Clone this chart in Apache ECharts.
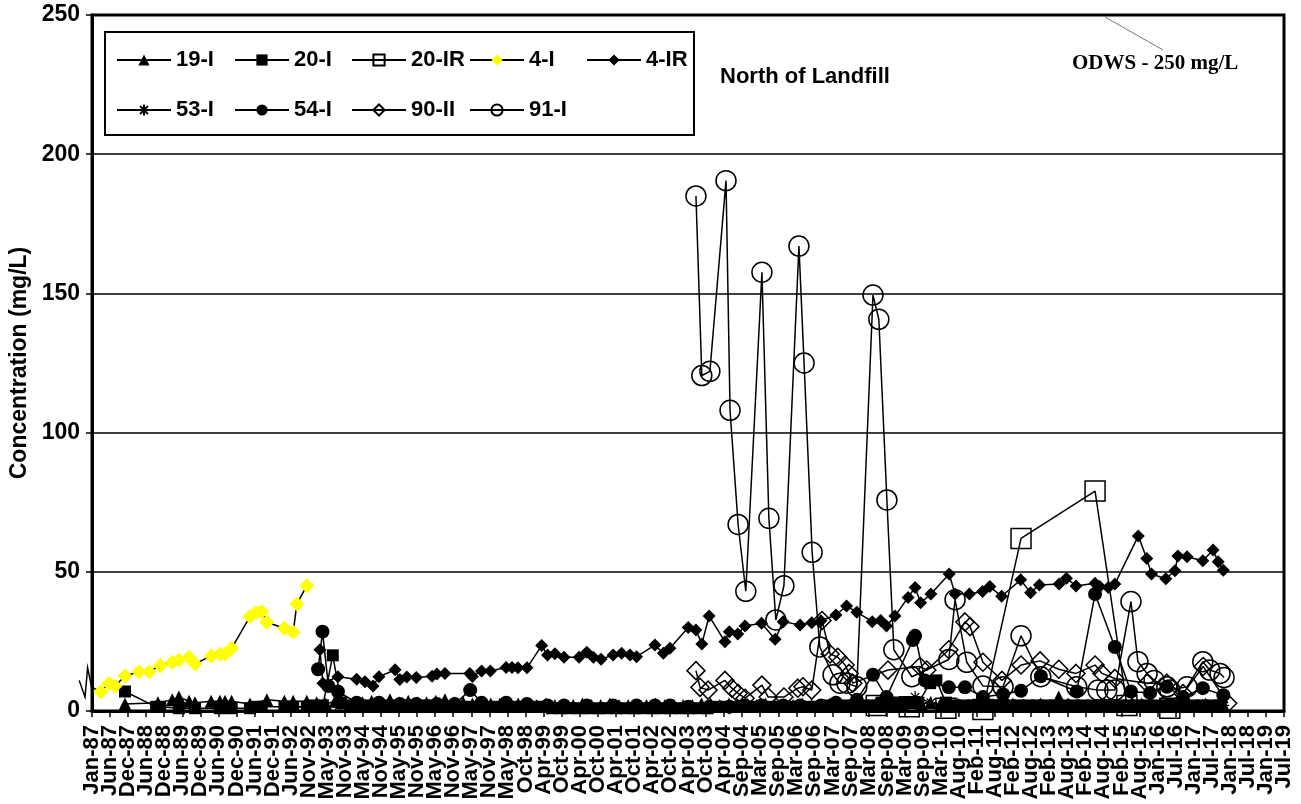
<!DOCTYPE html>
<html>
<head>
<meta charset="utf-8">
<title>North of Landfill</title>
<script src="https://cdn.jsdelivr.net/npm/echarts@6/dist/echarts.min.js"></script>
<style>
  html, body { margin: 0; padding: 0; background: #fff; }
  #chart { width: 1301px; height: 804px; }
</style>
</head>
<body>
<div id="chart"></div>
<script>
// sample dates are decimal years, values in mg/L

const tickLabels = [
  "Jan-87", "Jun-87", "Dec-87", "Jun-88", "Dec-88", "Jun-89", "Dec-89", "Jun-90", "Dec-90",
  "Jun-91", "Dec-91", "Jun-92", "Nov-92", "May-93", "Nov-93", "May-94", "Nov-94", "May-95",
  "Nov-95", "May-96", "Nov-96", "May-97", "Nov-97", "May-98", "Oct-98", "Apr-99", "Oct-99",
  "Apr-00", "Oct-00", "Apr-01", "Oct-01", "Apr-02", "Oct-02", "Apr-03", "Oct-03", "Apr-04",
  "Sep-04", "Mar-05", "Sep-05", "Mar-06", "Sep-06", "Mar-07", "Sep-07", "Mar-08", "Sep-08",
  "Mar-09", "Sep-09", "Mar-10", "Aug-10", "Feb-11", "Aug-11", "Feb-12", "Aug-12", "Feb-13",
  "Aug-13", "Feb-14", "Aug-14", "Feb-15", "Aug-15", "Jan-16", "Jul-16", "Jan-17", "Jul-17",
  "Jan-18", "Jul-18", "Jan-19", "Jul-19",
];
const yTicks = [0, 50, 100, 150, 200, 250];

const t19I = [1987.90, 1988.80, 1989.19, 1989.37, 1989.65, 1989.81, 1990.25, 1990.49, 1990.63, 1990.81,
  1991.31, 1991.77, 1992.25, 1992.49, 1992.86,
  1993.13, 1993.38, 1993.63, 1993.88, 1994.13, 1994.38, 1994.63, 1994.88, 1995.13, 1995.38, 1995.63, 1995.88,
  1996.13, 1996.38, 1996.63, 1996.88, 1997.13, 1997.38, 1997.63, 1997.88, 1998.13, 1998.38, 1998.63, 1998.88,
  1999.13, 1999.38, 1999.63, 1999.88, 2000.13, 2000.38, 2000.63, 2000.88, 2001.13, 2001.38, 2001.63, 2001.88,
  2002.13, 2002.38, 2002.63, 2002.88, 2003.13, 2003.38, 2003.63, 2003.88, 2004.13, 2004.38, 2004.63, 2004.88,
  2005.13, 2005.38, 2005.63, 2005.88, 2006.13, 2006.38, 2006.63, 2006.88, 2007.13, 2007.38, 2007.63, 2007.88,
  2008.13, 2008.38, 2008.63, 2008.88, 2009.13, 2009.38, 2009.63, 2009.88, 2010.13, 2010.38, 2010.63, 2010.88,
  2011.13, 2011.38, 2011.63, 2011.88, 2012.13, 2012.38, 2012.63, 2012.88, 2013.13, 2013.38, 2013.63, 2013.88,
  2014.13, 2014.38, 2014.63, 2014.88, 2015.13, 2015.38, 2015.63, 2015.88, 2016.13, 2016.38, 2016.63, 2016.88,
  2017.13, 2017.38, 2017.63, 2017.88];
const v19I = [2.5, 3, 4, 5, 3.5, 3, 3.5, 3.5, 3.5, 3.5,
  2.5, 4, 3.5, 3.5, 3.5,
  3, 2.5, 3.5, 3, 2.5, 3, 3.5, 3, 4, 3, 3.5, 3,
  3, 3.5, 4, 3, 3, 2.5, 3, 2.5, 2.5, 3, 2.5, 2,
  2, 2.5, 2, 2, 2, 2.5, 2, 2, 2.5, 2, 2, 2,
  2, 2.5, 2, 2, 2, 2, 2.5, 2.5, 2, 2.5, 2, 2.5,
  2, 2.5, 2, 2, 2, 2.5, 2, 2, 2.5, 2, 2, 2.5,
  2, 2.5, 2, 2, 2.5, 3, 2.5, 3, 2, 2.5, 2.5, 2,
  2, 2.5, 2, 2, 2.5, 2, 2, 2.5, 2, 5, 2.5, 2,
  2, 2, 2.5, 2, 2, 3, 2.5, 2, 2, 2.5, 2, 2,
  2, 2.5, 2, 2];

const t20I = [1987.90, 1988.75, 1988.86, 1989.37, 1989.81, 1990.49, 1990.81, 1991.31, 1991.47, 1991.63,
  1992.25, 1992.49, 1992.86,
  1993.05, 1993.30, 1993.57, 1993.80, 1994.05, 1994.30, 1994.55, 1994.80, 1995.05, 1995.30, 1995.55, 1995.80,
  1996.05, 1996.30, 1996.55, 1996.80, 1997.05, 1997.30, 1997.55, 1997.80, 1998.05, 1998.30, 1998.55, 1998.80,
  1999.05, 1999.30, 1999.55, 1999.80, 2000.05, 2000.30, 2000.55, 2000.80, 2001.05, 2001.30, 2001.55, 2001.80,
  2002.05, 2002.30, 2002.55, 2002.80, 2003.05, 2003.30, 2003.55, 2003.80, 2004.05, 2004.30, 2004.55, 2004.80,
  2005.05, 2005.30, 2005.55, 2005.80, 2006.05, 2006.30, 2006.55, 2006.80, 2007.05, 2007.30, 2007.55, 2007.80,
  2008.05, 2008.30, 2008.55, 2008.80, 2009.05, 2009.30, 2009.55, 2009.87, 2010.04, 2010.30, 2010.55, 2010.80,
  2011.05, 2011.30, 2011.55, 2011.80, 2012.05, 2012.30, 2012.55, 2012.80, 2013.05, 2013.30, 2013.55, 2013.80,
  2014.05, 2014.30, 2014.55, 2014.80, 2015.05, 2015.30, 2015.55, 2015.80, 2016.05, 2016.30, 2016.55, 2016.80,
  2017.05, 2017.30, 2017.55, 2017.80];
const v20I = [7, 1.5, 1.5, 1, 1, 1, 1, 1, 1.5, 1.5,
  1.5, 1.5, 1.5,
  2, 2, 20, 3, 2, 2, 2, 2, 2, 2, 2, 2,
  2, 2, 2, 1.5, 1.5, 1.5, 1.5, 1.5, 1.5, 1.5, 1.5, 1.5,
  1.5, 1.5, 1, 1, 1, 1, 1, 1, 1, 1, 1, 1,
  1, 1, 1, 1, 1, 1, 1, 1, 1.5, 1.5, 1.5, 1.5,
  1.5, 1.5, 1.5, 1.5, 1.5, 1.5, 1.5, 1.5, 2, 2, 2, 2,
  2, 2, 3, 3, 3, 3, 3, 10, 11, 3, 2, 2,
  2, 2, 2, 2, 2, 2, 2, 2, 2, 2, 2, 2,
  2, 2, 2, 2, 2, 2, 2, 2, 2, 2, 2, 2,
  2, 2, 2, 2];

const t20IR = [2008.40, 2009.30, 2010.30, 2011.31, 2012.35, 2014.37, 2015.24, 2016.41];
const v20IR = [2, 1.5, 1, 0.5, 62, 79, 2, 1];

const t4I = [1987.24, 1987.46, 1987.63, 1987.90, 1988.28, 1988.56,
  1988.86, 1989.19, 1989.37, 1989.65, 1989.81, 1990.25, 1990.49, 1990.63, 1990.81, 1991.31, 1991.47,
  1991.63, 1991.77, 1992.25, 1992.49, 1992.59, 1992.86];
const v4I = [6.9, 9.9, 9.0, 12.6, 14.1, 14.1,
  16.3, 17.5, 18.3, 19.3, 16.9, 19.8, 20.5, 20.5, 22.5, 33.9, 35.3,
  35.7, 31.9, 29.7, 28.3, 38.4, 45.0];
// 4-I readings dated before Jan-87: only their connecting line shows, at the axis
const t4IEarly = [1986.65, 1986.81, 1986.88, 1986.99];
const v4IEarly = [11, 5, 15.5, 8.6];

const t4IR = [1993.22, 1993.30, 1993.71, 1994.22, 1994.45, 1994.67, 1994.83, 1995.27, 1995.40, 1995.59,
  1995.85, 1996.28, 1996.41, 1996.63, 1997.31, 1997.38, 1997.63, 1997.87, 1998.30, 1998.46, 1998.62,
  1998.87, 1999.27, 1999.43, 1999.63, 1999.88, 2000.29, 2000.50, 2000.68, 2000.89, 2001.22, 2001.45,
  2001.68, 2001.86, 2002.36, 2002.59, 2002.77, 2003.27, 2003.48, 2003.64, 2003.84, 2004.27, 2004.39,
  2004.62, 2004.82, 2005.27, 2005.64, 2005.86, 2006.32, 2006.64, 2006.89, 2007.30, 2007.59, 2007.87,
  2008.29, 2008.52, 2008.68, 2008.91, 2009.27, 2009.46, 2009.61, 2009.89, 2010.39, 2010.55, 2010.94,
  2011.30, 2011.50, 2011.82, 2012.34, 2012.61, 2012.85, 2013.39, 2013.59, 2013.85, 2014.37, 2014.50,
  2014.73, 2014.91, 2015.55, 2015.78, 2015.91, 2016.30, 2016.55, 2016.63, 2016.88, 2017.31, 2017.59,
  2017.73, 2017.87];
const v4IR = [22, 10, 12.3, 11.4, 10.5, 9, 12.3, 14.8, 11.3, 12.2,
  12, 12.5, 13.3, 13.5, 13.5, 12.4, 14.4, 14.4, 15.6, 15.6, 15.5,
  15.5, 23.5, 20.1, 20.6, 19.3, 19.3, 21.1, 19.3, 18.6, 20.1, 20.7,
  20.1, 19.5, 23.7, 20.7, 22.5, 30, 29.1, 24.1, 34.1, 24.9, 28.5,
  27.7, 30.5, 31.5, 25.8, 32.1, 30.9, 31.7, 32.4, 34.5, 37.7, 35.5,
  32.1, 32.5, 30.5, 34.1, 40.8, 44.4, 38.9, 42, 49.2, 42, 42,
  42.9, 44.7, 41.2, 47.1, 42.5, 45.3, 45.6, 47.7, 44.9, 45.9, 44.7,
  44.4, 45.6, 62.9, 54.8, 49.2, 47.5, 50.4, 55.7, 55.4, 54, 57.8,
  53.6, 50.6];

const t53I = [1993.30, 1993.71, 1994.22, 1994.83, 1995.40, 1995.85, 1996.41, 1996.90, 1997.40, 1997.87,
  1998.46, 1998.87, 1999.43, 1999.88, 2000.50, 2000.89, 2001.45, 2001.86, 2002.36, 2002.77, 2003.27,
  2003.84, 2004.39, 2004.82, 2005.27, 2005.86, 2006.32, 2006.89, 2007.30, 2007.87, 2008.29, 2008.91,
  2009.46, 2009.89, 2010.39, 2010.94, 2011.50, 2011.86, 2012.34, 2012.85, 2013.39, 2013.85, 2014.37,
  2014.91, 2015.55, 2015.91, 2016.55, 2017.31, 2017.87];
const v53I = [2, 1.5, 1.5, 1.5, 1.5, 1.5, 1.5, 1.5, 1.5, 1.5,
  1.5, 1.5, 1, 1, 1, 1, 1, 1, 1, 1, 1,
  1, 1, 1.5, 1.5, 1.5, 1.5, 1.5, 2, 2, 2, 2,
  5, 3, 2, 2, 2, 4, 2, 2, 2, 2, 2,
  2, 2, 2, 2, 2, 2];

const t54I = [1993.17, 1993.29, 1993.45, 1993.71, 1994.22, 1994.83, 1995.40, 1995.85, 1996.41, 1996.90,
  1997.32, 1997.63, 1998.30, 1998.87, 1999.43, 1999.88, 2000.50, 2001.22, 2001.86, 2002.36, 2002.77,
  2003.27, 2003.84, 2004.39, 2004.82, 2005.27, 2005.86, 2006.32, 2006.89, 2007.30, 2007.87, 2008.31,
  2008.68, 2009.40, 2009.46, 2009.73, 2010.38, 2010.82, 2011.31, 2011.86, 2012.35, 2012.89, 2013.87,
  2014.37, 2014.91, 2015.35, 2015.87, 2016.33, 2016.77, 2017.31, 2017.87];
const v54I = [15, 28.5, 9, 7, 3, 3, 2.5, 2.5, 2.5, 2.5,
  7.5, 3, 3, 2.5, 2, 2, 2, 2, 2, 2, 2,
  1.5, 1.5, 1.5, 2, 2, 2, 2, 2, 3, 4, 13,
  5, 25.5, 27, 11, 8.5, 8.5, 5, 6, 7.3, 12.5, 7,
  42, 23, 7, 6.5, 8.7, 5, 8.2, 5.7];

const t90II = [2003.48, 2003.59, 2003.81, 2004.27, 2004.46, 2004.63, 2004.82, 2005.28, 2005.45, 2005.88,
  2006.26, 2006.40, 2006.64, 2006.92, 2007.14, 2007.35, 2007.55, 2007.66, 2007.76, 2008.72, 2009.59,
  2009.78, 2010.38, 2010.82, 2010.96, 2011.31, 2011.83, 2012.35, 2012.87, 2013.38, 2013.85, 2014.37,
  2014.56, 2014.91, 2015.79, 2016.33, 2016.77, 2017.32, 2017.99];
const v90II = [14.5, 8.5, 7.5, 11, 8.2, 6.3, 4.6, 9.3, 5, 5,
  8.2, 8.7, 7.5, 32.5, 20.5, 19.3, 16.5, 13.5, 10, 14.7, 16,
  14.7, 22, 32, 30.3, 17.5, 11, 16.5, 18, 15, 13.5, 16.5,
  13.5, 11.7, 10, 10, 6.3, 16, 2.8];

const t91I = [2003.48, 2003.64, 2003.86, 2004.30, 2004.41, 2004.63, 2004.84, 2005.28, 2005.47, 2005.66,
  2005.88, 2006.29, 2006.43, 2006.65, 2006.86, 2007.22, 2007.41, 2007.60, 2007.87, 2008.31, 2008.47,
  2008.69, 2008.88, 2009.37, 2010.38, 2010.55, 2010.87, 2011.31, 2011.86, 2012.35, 2012.89, 2013.87,
  2014.45, 2014.69, 2014.91, 2015.35, 2015.54, 2015.79, 2015.98, 2016.33, 2016.41, 2016.88, 2017.31,
  2017.50, 2017.78, 2017.89];
const v91I = [185, 120.5, 122, 190.5, 108, 67, 43, 157.6, 69.2, 32.7,
  45, 167, 125, 57, 23, 13, 10, 10, 8.7, 149.4, 140.7,
  75.8, 22, 12.3, 18.5, 40, 17.5, 9, 8.7, 27, 12.3, 8.7,
  7.5, 7.5, 7.5, 39.3, 17.7, 13.5, 11, 8.7, 7.5, 8.7, 17.7,
  14.7, 13.5, 12];

const FONT = "'Liberation Sans', Arial, sans-serif";
const DAYS_PER_TICK = 180;
const START_YEAR = 1987;
const LEGEND_COLS = [111, 229, 346, 464, 581];
const LEGEND_ROWS = [44, 94];

function toDays(year) {
  return (year - START_YEAR) * 365.25;
}

function toPoints(years, values) {
  return years.map((year, i) => [toDays(year), values[i]]);
}

function lineSeries(name, years, values, marker) {
  return {
    name,
    type: "line",
    xAxisIndex: 1,
    data: toPoints(years, values),
    symbol: marker.symbol,
    symbolSize: marker.size,
    showAllSymbol: true,
    lineStyle: { color: "#000", width: 1.5 },
    itemStyle: marker.style,
    emphasis: { disabled: true },
  };
}

const open = { color: "rgba(0,0,0,0)", borderColor: "#000", borderWidth: 1.5 };
const solid = { color: "#000", borderWidth: 0 };
const asterisk = "path://M5,0L5,10M0,5L10,5M1.5,1.5L8.5,8.5M8.5,1.5L1.5,8.5";

const legendNames = [
  ["19-I", "20-I", "20-IR", "4-I", "4-IR"],
  ["53-I", "54-I", "90-II", "91-I"],
];

const legends = [];
legendNames.forEach((row, r) => {
  row.forEach((name, c) => {
    legends.push({
      data: [name],
      left: LEGEND_COLS[c],
      top: LEGEND_ROWS[r],
      itemWidth: 54,
      itemHeight: 14,
      selectedMode: false,
      textStyle: { fontFamily: FONT, fontWeight: "bold", fontSize: 22, color: "#000" },
    });
  });
});

const chart = echarts.init(document.getElementById("chart"));

chart.setOption({
  animation: false,
  backgroundColor: "#fff",
  grid: {
    left: 92,
    right: 17,
    top: 15,
    bottom: 93,
    show: true,
    borderColor: "#000",
    borderWidth: 3,
    outerBoundsMode: "none",
  },
  legend: legends,
  xAxis: [
    {
      // tick labels every 180 days, one per category, lined up with the day axis below
      type: "category",
      data: tickLabels,
      boundaryGap: false,
      axisLine: { onZero: false, lineStyle: { color: "#000", width: 3 } },
      axisTick: { show: true, inside: false, length: 6, interval: 0, lineStyle: { color: "#000", width: 1.5 } },
      splitLine: { show: false },
      axisLabel: {
        interval: 0,
        rotate: 90,
        margin: 14,
        fontFamily: FONT,
        fontWeight: "bold",
        fontSize: 22,
        color: "#000",
      },
    },
    {
      type: "value",
      show: false,
      min: 0,
      max: (tickLabels.length - 1) * DAYS_PER_TICK,
      interval: DAYS_PER_TICK,
      splitLine: { show: false },
    },
  ],
  yAxis: {
    type: "value",
    min: yTicks[0],
    max: yTicks[yTicks.length - 1],
    interval: yTicks[1] - yTicks[0],
    name: "Concentration (mg/L)",
    nameLocation: "middle",
    nameGap: 60,
    nameTextStyle: { fontFamily: FONT, fontWeight: "bold", fontSize: 23, color: "#000" },
    axisLine: { show: true, lineStyle: { color: "#000", width: 3 } },
    axisTick: { show: true, inside: false, length: 6, lineStyle: { color: "#000", width: 1.5 } },
    splitLine: { show: true, lineStyle: { color: "#000", width: 1.5 } },
    axisLabel: { margin: 12, fontFamily: FONT, fontWeight: "bold", fontSize: 23, color: "#000" },
  },
  graphic: [
    {
      type: "rect",
      shape: { x: 105, y: 32, width: 589, height: 103 },
      style: { fill: "#fff", stroke: "#000", lineWidth: 2 },
      z: 0,
      silent: true,
    },
    {
      type: "text",
      left: 720,
      top: 66,
      style: { text: "North of Landfill", font: `bold 22px ${FONT}`, fill: "#000" },
    },
    {
      type: "line",
      shape: { x1: 1105, y1: 17, x2: 1163, y2: 50 },
      style: { stroke: "#777", lineWidth: 1 },
      silent: true,
    },
    {
      type: "text",
      left: 1072,
      top: 53,
      style: {
        text: "ODWS - 250 mg/L",
        font: "bold 21px 'Liberation Serif', 'Times New Roman', serif",
        fill: "#000",
      },
    },
  ],
  series: [
    lineSeries("19-I", t19I, v19I, { symbol: "triangle", size: 13, style: solid }),
    lineSeries("20-I", t20I, v20I, { symbol: "rect", size: 12, style: solid }),
    lineSeries("20-IR", t20IR, v20IR, { symbol: "rect", size: 20, style: open }),
    lineSeries("4-I", t4I, v4I, { symbol: "diamond", size: 15, style: { color: "#ffff00", borderWidth: 0 } }),
    lineSeries("4-IR", t4IR, v4IR, { symbol: "diamond", size: 13, style: solid }),
    lineSeries("53-I", t53I, v53I, { symbol: asterisk, size: 12, style: { color: "#000", borderColor: "#000", borderWidth: 1.3 } }),
    lineSeries("54-I", t54I, v54I, { symbol: "circle", size: 14, style: solid }),
    lineSeries("90-II", t90II, v90II, { symbol: "diamond", size: 18, style: open }),
    lineSeries("91-I", t91I, v91I, { symbol: "circle", size: 20, style: open }),
  ],
});

// line stub of the pre-1987 4-I readings, placed through the chart's own scales
const stubYears = t4IEarly.concat([t4I[0]]);
const stubValues = v4IEarly.concat([v4I[0]]);
const stubPoints = stubYears.map((year, i) =>
  chart.convertToPixel({ xAxisIndex: 1, yAxisIndex: 0 }, [toDays(year), stubValues[i]]));
chart.setOption({
  graphic: [
    {
      id: "stub4I",
      type: "polyline",
      shape: { points: stubPoints },
      style: { stroke: "#000", lineWidth: 1.5, fill: null },
      z: 1,
      silent: true,
    },
  ],
});
</script>
</body>
</html>
